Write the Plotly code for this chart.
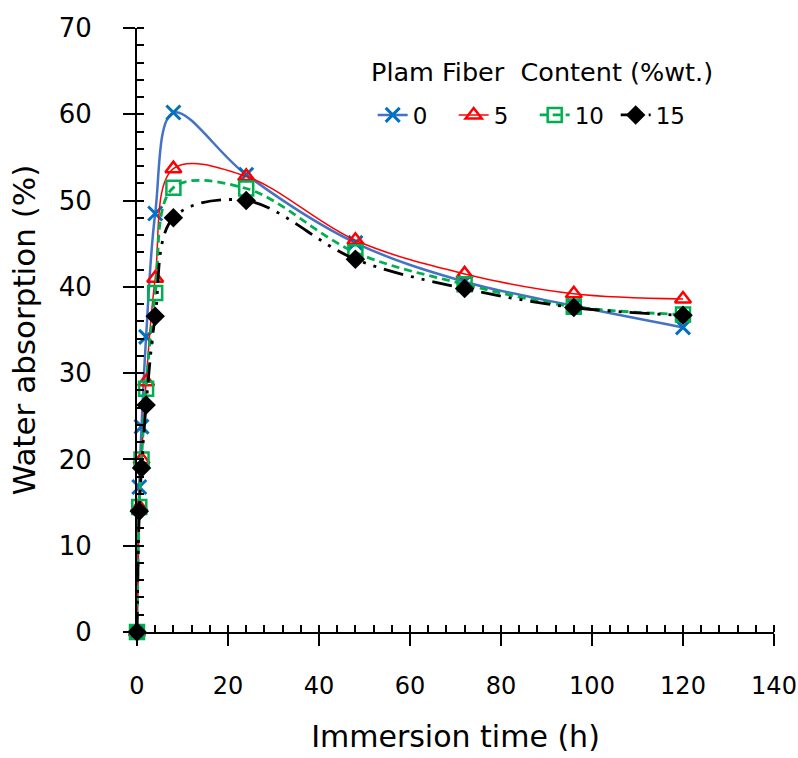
import plotly.graph_objects as go

time_h = [0, 0.5, 1, 2, 4, 8, 24, 48, 72, 96, 120]
wa_0 = [0, 16.8, 23.8, 34.2, 48.5, 60.2, 53.0, 45.1, 40.6, 37.8, 35.3]
wa_5 = [0, 14.5, 20.0, 29.0, 41.0, 53.7, 52.8, 45.4, 41.5, 39.2, 38.6]
wa_10 = [0, 14.5, 20.0, 28.2, 39.3, 51.5, 51.4, 44.0, 40.3, 37.7, 36.8]
wa_15 = [0, 14.0, 19.0, 26.3, 36.6, 48.0, 50.0, 43.2, 39.8, 37.6, 36.7]
series_names = ["0", "5", "10", "15"]
legend_title = "Plam Fiber  Content (%wt.)"

FONT = "DejaVu Sans"

fig = go.Figure()
fig.add_trace(go.Scatter(
    x=time_h, y=wa_0, name=series_names[0], mode="lines+markers", cliponaxis=False,
    line=dict(color="#4472C4", width=2.5, shape="spline", smoothing=1),
    marker=dict(symbol="x-thin-open", size=14, color="#0070C0",
                line=dict(color="#0070C0", width=3)),
))
fig.add_trace(go.Scatter(
    x=time_h, y=wa_5, name=series_names[1], mode="lines+markers", cliponaxis=False,
    line=dict(color="#FF0000", width=1.5, shape="spline", smoothing=1),
    marker=dict(symbol="triangle-up-open", size=14, color="#FF0000",
                line=dict(color="#FF0000", width=2.5)),
))
fig.add_trace(go.Scatter(
    x=time_h, y=wa_10, name=series_names[2], mode="lines+markers", cliponaxis=False,
    line=dict(color="#00B050", width=2.8, dash="8px,5px", shape="spline", smoothing=1),
    marker=dict(symbol="square-open", size=14, color="#00B050",
                line=dict(color="#00B050", width=2.5)),
))
fig.add_trace(go.Scatter(
    x=time_h, y=wa_15, name=series_names[3], mode="lines+markers", cliponaxis=False,
    line=dict(color="#000000", width=2.8, dash="20px,8px,3px,8px,3px,8px", shape="spline", smoothing=1),
    marker=dict(symbol="diamond", size=15, color="#000000"),
))

fig.update_layout(
    width=798, height=758,
    margin=dict(l=137, r=24, t=28, b=126, autoexpand=False),
    paper_bgcolor="white", plot_bgcolor="white",
    font=dict(family=FONT, size=22, color="#000000"),
    showlegend=True,
    legend=dict(
        orientation="h", x=0.37, y=0.856, xanchor="left", yanchor="middle",
        font=dict(size=23, family=FONT), bgcolor="rgba(0,0,0,0)",
        entrywidth=36, tracegroupgap=0,
    ),
    annotations=[dict(
        text=legend_title, xref="paper", yref="paper",
        x=0.3646, y=0.927, xanchor="left", yanchor="middle",
        showarrow=False, font=dict(size=25.5, family=FONT, color="#000000"),
    )],
)
fig.update_xaxes(
    range=[0, 140], dtick=20, tick0=0, automargin=False,
    showline=True, linecolor="black", linewidth=2,
    ticks="outside", ticklen=12, tickwidth=2, tickcolor="black",
    minor=dict(dtick=4, ticks="inside", ticklen=7, tickwidth=1.5, tickcolor="black"),
    showgrid=False, zeroline=False,
    ticklabelstandoff=19, ticklabeloverflow="allow",
    tickfont=dict(size=24, family=FONT),
    title=dict(text="Immersion time (h)", font=dict(size=30, family=FONT), standoff=27),
)
fig.update_yaxes(
    range=[0, 70], dtick=10, tick0=0, automargin=False,
    showline=True, linecolor="black", linewidth=2,
    ticks="outside", ticklen=12, tickwidth=2, tickcolor="black",
    minor=dict(dtick=2, ticks="inside", ticklen=7, tickwidth=1.5, tickcolor="black"),
    showgrid=False, zeroline=False,
    ticklabelstandoff=26, ticklabeloverflow="allow",
    tickfont=dict(size=26, family=FONT),
    title=dict(text="Water absorption (%)", font=dict(size=31, family=FONT), standoff=14),
)

fig.write_html("out.html")
